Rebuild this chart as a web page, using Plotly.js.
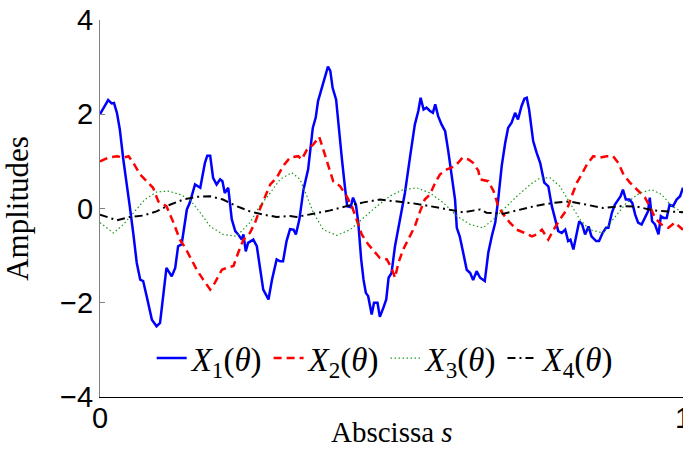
<!DOCTYPE html>
<html>
<head>
<meta charset="utf-8">
<script src="https://cdn.plot.ly/plotly-3.0.1.min.js"></script>
<style>html,body{margin:0;padding:0;background:#fff;}#chart{width:683px;height:459px;}</style>
</head>
<body>
<div id="chart"></div>
<script>
// X1(theta)
const s1 = [0.000,0.014,0.020,0.024,0.029,0.034,0.040,0.046,0.051,0.057,0.063,0.069,0.074,0.080,0.089,0.097,0.103,0.109,0.114,0.123,0.129,0.134,0.140,0.149,0.154,0.163,0.172,0.180,0.184,0.189,0.194,0.200,0.206,0.210,0.214,0.220,0.226,0.232,0.237,0.243,0.246,0.250,0.254,0.263,0.269,0.274,0.280,0.289,0.295,0.303,0.309,0.314,0.320,0.326,0.332,0.336,0.342,0.349,0.357,0.365,0.370,0.374,0.380,0.386,0.391,0.395,0.399,0.405,0.409,0.415,0.420,0.424,0.430,0.434,0.439,0.443,0.448,0.452,0.456,0.460,0.466,0.470,0.476,0.480,0.486,0.491,0.495,0.500,0.506,0.515,0.523,0.532,0.540,0.546,0.550,0.555,0.560,0.566,0.571,0.575,0.580,0.586,0.592,0.597,0.603,0.609,0.612,0.617,0.623,0.629,0.635,0.640,0.646,0.652,0.660,0.666,0.672,0.678,0.683,0.689,0.695,0.700,0.706,0.712,0.717,0.723,0.728,0.732,0.736,0.743,0.749,0.755,0.762,0.769,0.775,0.780,0.786,0.792,0.798,0.803,0.807,0.812,0.818,0.822,0.827,0.832,0.838,0.843,0.851,0.856,0.862,0.868,0.872,0.878,0.883,0.889,0.893,0.897,0.902,0.908,0.913,0.918,0.923,0.929,0.935,0.940,0.943,0.947,0.952,0.958,0.962,0.967,0.972,0.977,0.983,0.989,0.995,1.000];
const x1 = [2.00,2.30,2.23,2.24,2.03,1.68,1.04,0.55,0.05,-0.52,-1.15,-1.51,-1.54,-1.86,-2.36,-2.50,-2.43,-1.79,-1.26,-1.44,-1.26,-0.80,-0.76,-0.02,0.12,0.51,0.44,0.97,1.12,1.12,0.65,0.51,0.62,0.58,0.33,0.44,-0.23,-0.48,-0.55,-0.66,-0.55,-0.91,-0.73,-0.66,-0.80,-1.22,-1.72,-1.93,-1.51,-1.08,-1.12,-1.12,-0.69,-0.44,-0.45,-0.55,-0.23,0.40,0.83,1.71,1.93,2.28,2.53,2.81,3.01,2.92,2.56,2.31,1.75,1.04,0.47,0.05,0.03,0.23,0.08,-0.30,-1.08,-1.51,-1.79,-1.86,-2.25,-2.00,-2.00,-2.30,-2.11,-1.93,-1.47,-1.37,-0.80,-0.23,0.33,1.11,1.78,2.07,2.35,2.10,2.14,2.07,2.03,2.21,1.96,1.78,1.64,1.25,0.69,0.19,-0.41,-0.59,-0.94,-1.30,-1.37,-1.52,-1.33,-1.47,-1.54,-0.94,-0.59,-0.30,0.19,0.90,1.39,1.71,1.82,2.03,1.89,2.17,2.33,2.35,2.10,1.43,1.18,0.97,0.55,0.47,0.05,-0.20,-0.48,-0.52,-0.45,-0.69,-0.66,-0.87,-0.55,-0.27,-0.34,-0.55,-0.38,-0.59,-0.69,-0.69,-0.52,-0.41,-0.41,-0.09,0.08,0.19,0.26,0.40,0.19,0.19,0.12,-0.13,-0.30,-0.34,-0.20,-0.06,0.23,-0.27,-0.34,-0.55,-0.16,-0.20,-0.20,0.08,0.05,0.19,0.26,0.44];

// X2(theta)
const s2 = [0.000,0.014,0.029,0.040,0.049,0.057,0.069,0.083,0.091,0.100,0.114,0.126,0.137,0.146,0.154,0.166,0.177,0.189,0.197,0.209,0.217,0.229,0.237,0.246,0.257,0.266,0.274,0.280,0.292,0.303,0.314,0.326,0.340,0.346,0.355,0.366,0.376,0.383,0.392,0.400,0.412,0.423,0.432,0.440,0.449,0.460,0.472,0.480,0.492,0.500,0.506,0.512,0.520,0.529,0.540,0.549,0.557,0.566,0.575,0.583,0.595,0.609,0.622,0.632,0.640,0.649,0.652,0.666,0.675,0.683,0.692,0.703,0.715,0.729,0.741,0.749,0.758,0.769,0.778,0.789,0.801,0.809,0.818,0.826,0.835,0.846,0.858,0.869,0.880,0.889,0.898,0.909,0.921,0.927,0.935,0.943,0.952,0.963,0.975,0.986,1.000];
const x2 = [1.00,1.08,1.11,1.08,1.11,0.97,0.72,0.55,0.44,0.15,0.05,-0.30,-0.66,-0.83,-1.01,-1.30,-1.51,-1.72,-1.58,-1.30,-1.26,-1.22,-0.94,-0.66,-0.52,-0.30,-0.02,0.15,0.51,0.65,0.90,1.08,1.11,1.04,1.25,1.36,1.52,1.25,0.90,0.58,0.47,0.26,0.05,-0.23,-0.55,-0.76,-0.94,-1.05,-1.08,-1.26,-1.47,-1.15,-0.87,-0.66,-0.38,-0.06,0.19,0.30,0.55,0.72,0.83,0.90,1.08,1.04,0.97,0.80,0.62,0.58,0.37,0.05,-0.13,-0.30,-0.45,-0.52,-0.59,-0.55,-0.45,-0.66,-0.45,-0.23,-0.02,0.26,0.55,0.72,0.93,1.11,1.08,1.11,1.11,0.97,0.72,0.55,0.40,0.33,0.23,0.05,-0.20,-0.34,-0.41,-0.30,-0.45];

// X3(theta)
const s3 = [0.000,0.023,0.040,0.057,0.077,0.097,0.117,0.137,0.154,0.172,0.189,0.211,0.234,0.257,0.274,0.292,0.309,0.329,0.343,0.355,0.366,0.383,0.406,0.429,0.452,0.475,0.497,0.520,0.543,0.566,0.589,0.612,0.635,0.657,0.675,0.692,0.715,0.738,0.755,0.772,0.789,0.806,0.823,0.840,0.863,0.880,0.903,0.926,0.946,0.963,0.981,1.000];
const x3 = [-0.30,-0.52,-0.34,-0.09,0.19,0.35,0.37,0.30,0.19,-0.09,-0.38,-0.55,-0.59,-0.30,0.05,0.33,0.62,0.76,0.62,0.26,-0.09,-0.45,-0.57,-0.45,-0.20,0.05,0.26,0.40,0.44,0.33,0.12,-0.16,-0.34,-0.41,-0.23,-0.02,0.26,0.51,0.65,0.65,0.47,0.12,-0.23,-0.45,-0.52,-0.23,0.12,0.33,0.40,0.30,0.05,-0.09];

// X4(theta)
const s4 = [0.000,0.029,0.051,0.074,0.097,0.120,0.143,0.166,0.189,0.211,0.234,0.257,0.280,0.303,0.326,0.337,0.366,0.395,0.423,0.452,0.480,0.509,0.537,0.566,0.595,0.623,0.652,0.663,0.692,0.720,0.749,0.778,0.806,0.835,0.863,0.892,0.921,0.949,0.981,1.000];
const x4 = [-0.13,-0.25,-0.18,-0.15,-0.06,0.08,0.19,0.25,0.26,0.19,0.05,-0.06,-0.13,-0.18,-0.16,-0.18,-0.11,-0.04,0.05,0.13,0.19,0.15,0.11,0.05,-0.02,-0.08,-0.02,-0.09,-0.11,-0.02,0.06,0.12,0.15,0.08,0.01,0.05,0.04,-0.04,-0.06,-0.08];

const names = ['<i>X</i><sub>1</sub>(<i>θ</i>)','<i>X</i><sub>2</sub>(<i>θ</i>)','<i>X</i><sub>3</sub>(<i>θ</i>)','<i>X</i><sub>4</sub>(<i>θ</i>)'];
const yTicks = [-4,-2,0,2,4];
const xTicks = [0,1];
const xTitle = 'Abscissa <i>s</i>';
const yTitle = 'Amplitudes';

const traces = [
  {x:s1, y:x1, name:names[0], mode:'lines', line:{color:'#0000ff', width:2.5}},
  {x:s2, y:x2, name:names[1], mode:'lines', line:{color:'#ff0000', width:2.5, dash:'8px,5px'}},
  {x:s3, y:x3, name:names[2], mode:'lines', line:{color:'#1a9a1a', width:1.2, dash:'1.5px,2.5px'}},
  {x:s4, y:x4, name:names[3], mode:'lines', line:{color:'#000000', width:2, dash:'8px,4px,2px,4px'}}
];

const layout = {
  width:683, height:459,
  margin:{l:100, r:0, t:20, b:62},
  paper_bgcolor:'#ffffff', plot_bgcolor:'#ffffff',
  showlegend:true,
  legend:{orientation:'h', x:0.49, y:0.103, xanchor:'center', yanchor:'middle',
          bgcolor:'rgba(0,0,0,0)', font:{family:'Liberation Serif', size:33, color:'#000'}},
  xaxis:{range:[0,1], tickvals:xTicks, ticktext:['0','1'], showgrid:false, zeroline:false,
         showline:true, linecolor:'#000', linewidth:1, ticks:'inside', ticklen:5, tickcolor:'#000',
         ticklabeloverflow:'allow', ticklabelstandoff:-5,
         tickfont:{family:'Liberation Sans', size:29, color:'#000'}},
  yaxis:{range:[-4,4], tickvals:yTicks, showgrid:false, zeroline:false,
         showline:true, linecolor:'#808080', linewidth:1, ticks:'inside', ticklen:5, tickcolor:'#808080',
         tickfont:{family:'Liberation Sans', size:29, color:'#000'},
         title:{text:yTitle, font:{family:'Liberation Serif', size:31, color:'#000'}, standoff:22}},
  annotations:[{text:xTitle, xref:'paper', yref:'paper', x:0.5, y:-0.093, xanchor:'center', yanchor:'middle',
                showarrow:false, font:{family:'Liberation Serif', size:29, color:'#000'}}]
};

Plotly.newPlot('chart', traces, layout, {staticPlot:true, displayModeBar:false});
</script>
</body>
</html>
